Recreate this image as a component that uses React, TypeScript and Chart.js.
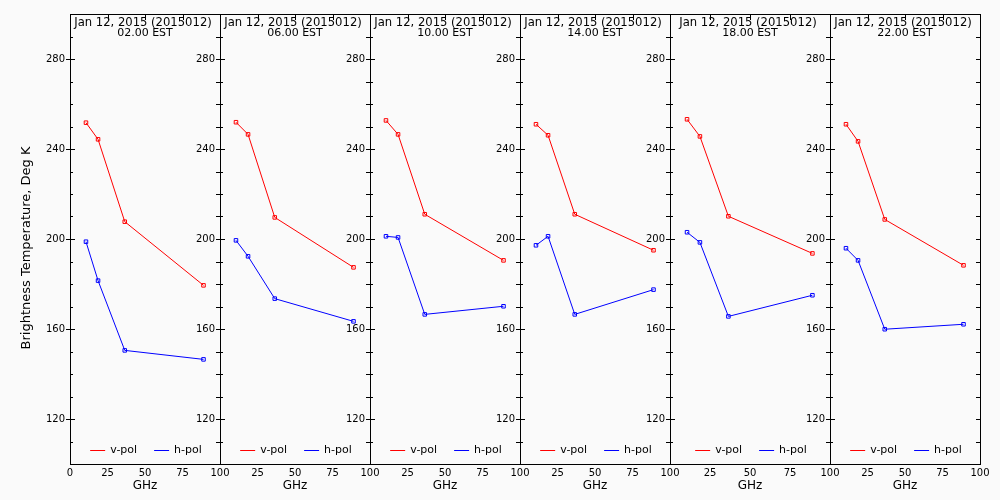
import React, { useEffect, useRef } from 'react';
import { Chart, registerables } from 'chart.js';

Chart.register(...registerables);

// ---- data ----
const frequenciesGHz = [10.65, 18.7, 36.5, 89.0];
const dateLabel = 'Jan 12, 2015 (2015012)';
const panelTimes = ['02.00 EST', '06.00 EST', '10.00 EST', '14.00 EST', '18.00 EST', '22.00 EST'];

const vPol02 = [251.7, 244.3, 207.7, 179.4];
const vPol06 = [251.9, 246.5, 209.6, 187.4];
const vPol10 = [252.7, 246.5, 211.0, 190.5];
const vPol14 = [251.0, 246.1, 211.0, 195.0];
const vPol18 = [253.2, 245.6, 210.1, 193.6];
const vPol22 = [251.0, 243.4, 208.7, 188.3];

const hPol02 = [198.8, 181.5, 150.5, 146.5];
const hPol06 = [199.4, 192.3, 173.5, 163.4];
const hPol10 = [201.2, 200.7, 166.5, 170.1];
const hPol14 = [197.2, 201.2, 166.5, 177.5];
const hPol18 = [203.0, 198.5, 165.6, 175.0];
const hPol22 = [195.9, 190.5, 159.9, 162.1];

const vPolSeries = [vPol02, vPol06, vPol10, vPol14, vPol18, vPol22];
const hPolSeries = [hPol02, hPol06, hPol10, hPol14, hPol18, hPol22];

const seriesLabels = ['v-pol', 'h-pol'];
const xTickValues = [0, 25, 50, 75, 100];
const yLabeledTicks = [120, 160, 200, 240, 280];
const yTitle = 'Brightness Temperature, Deg K';
const xTitle = 'GHz';

// ---- layout ----
const panelEdges = [70, 220, 370, 520, 670, 830, 980];
const PAD_R = 15;
const SANS = '"DejaVu Sans", sans-serif';
const RED = '#ff0000';
const BLUE = '#0000ff';

function Panel({ index }: { index: number }) {
  const ref = useRef<HTMLCanvasElement | null>(null);
  const padL = index === 0 ? panelEdges[0] : 40;
  const panelW = panelEdges[index + 1] - panelEdges[index];
  const width = panelW + padL + PAD_R;
  const height = 500;

  useEffect(() => {
    if (!ref.current) return;
    const toPts = (arr: number[]) => frequenciesGHz.map((x, k) => ({ x, y: arr[k] }));
    const mk = (label: string, arr: number[], color: string) => ({
      label,
      data: toPts(arr),
      borderColor: color,
      backgroundColor: color,
      borderWidth: 1,
      pointStyle: 'rect' as const,
      pointRadius: 2.5,
      pointBorderWidth: 1,
      pointBorderColor: color,
      pointBackgroundColor: 'rgba(0,0,0,0)',
      tension: 0,
      fill: false,
    });

    const decor = {
      id: 'decor' + index,
      afterDraw(chart: any) {
        const ctx = chart.ctx;
        const { left, right, top, bottom } = chart.chartArea;
        const ys = chart.scales.y;
        const xs = chart.scales.x;
        ctx.save();
        ctx.strokeStyle = '#000';
        ctx.lineWidth = 1;
        // frame
        ctx.strokeRect(left + 0.5, top + 0.5, right - left, bottom - top);
        // y ticks
        ctx.beginPath();
        for (let v = 110; v < 300; v += 10) {
          const py = Math.round(ys.getPixelForValue(v)) + 0.5;
          if (yLabeledTicks.includes(v)) {
            ctx.moveTo(left - 4, py);
            ctx.lineTo(left + 5, py);
          } else {
            ctx.moveTo(left, py);
            ctx.lineTo(left + 3, py);
          }
          ctx.moveTo(right - 4, py);
          ctx.lineTo(right, py);
        }
        // top x ticks
        for (const v of xTickValues) {
          if (v === 0 || v === 100) continue;
          const px = Math.round(xs.getPixelForValue(v)) + 0.5;
          ctx.moveTo(px, top);
          ctx.lineTo(px, top + 6);
        }
        ctx.stroke();

        // panel title
        const cx = (left + right) / 2;
        ctx.fillStyle = '#000';
        ctx.textAlign = 'center';
        ctx.textBaseline = 'middle';
        ctx.font = '11.6px ' + SANS;
        ctx.fillText(dateLabel, cx - 2, top + 8.5);
        ctx.font = '11px ' + SANS;
        ctx.fillText(panelTimes[index], cx, top + 19.5);

        // legend
        ctx.font = '11px ' + SANS;
        const ds = chart.data.datasets;
        const lineLen = 15, gapTxt = 5, gapItem = 17;
        const widths = ds.map((d: any) => lineLen + gapTxt + ctx.measureText(d.label).width);
        const total = widths.reduce((a: number, b: number) => a + b, 0) + gapItem * (ds.length - 1);
        let x = cx - total / 2 + 1;
        const ly = 450.5;
        ctx.textAlign = 'left';
        ds.forEach((d: any, k: number) => {
          ctx.strokeStyle = d.borderColor;
          ctx.beginPath();
          ctx.moveTo(x, ly);
          ctx.lineTo(x + lineLen, ly);
          ctx.stroke();
          ctx.fillStyle = '#000';
          ctx.fillText(d.label, x + lineLen + gapTxt, ly);
          x += widths[k] + gapItem;
        });

        // y axis title (first panel only)
        if (index === 0) {
          ctx.save();
          ctx.translate(27, 248);
          ctx.rotate(-Math.PI / 2);
          ctx.textAlign = 'center';
          ctx.textBaseline = 'middle';
          ctx.font = '13px ' + SANS;
          ctx.fillStyle = '#000';
          ctx.fillText(yTitle, 0, 0);
          ctx.restore();
        }
        ctx.restore();
      },
    };

    const chart = new Chart(ref.current, {
      type: 'line',
      data: {
        datasets: [
          mk(seriesLabels[0], vPolSeries[index], RED),
          mk(seriesLabels[1], hPolSeries[index], BLUE),
        ],
      },
      options: {
        animation: false,
        responsive: false,
        maintainAspectRatio: false,
        events: [],
        layout: { padding: { left: 0, right: PAD_R, top: 14, bottom: 0 } },
        plugins: { legend: { display: false }, tooltip: { enabled: false } },
        scales: {
          x: {
            type: 'linear',
            min: 0,
            max: 100,
            afterFit: (s: any) => { s.height = 36; },
            grid: { display: false, drawTicks: false },
            border: { display: false },
            afterBuildTicks: (s: any) => { s.ticks = xTickValues.map((v) => ({ value: v })); },
            ticks: {
              autoSkip: false,
              maxRotation: 0,
              padding: 3,
              color: '#000',
              font: { family: SANS, size: 10 },
              callback: (v: any) => (index > 0 && Number(v) === 0 ? '' : String(v)),
            },
            title: {
              display: true,
              text: xTitle,
              color: '#000',
              font: { family: SANS, size: 12 },
              padding: { top: 0, bottom: 7 },
            },
          },
          y: {
            type: 'linear',
            min: 100,
            max: 300,
            afterFit: (s: any) => { s.width = padL; },
            grid: { display: false, drawTicks: false },
            border: { display: false },
            ticks: {
              stepSize: 10,
              autoSkip: false,
              padding: 5,
              color: '#000',
              font: { family: SANS, size: 10 },
              callback: (v: any) => (yLabeledTicks.includes(Number(v)) ? String(v) : ''),
            },
          },
        },
      } as any,
      plugins: [decor],
    });
    return () => chart.destroy();
  }, [index]);

  return (
    <canvas
      ref={ref}
      width={width}
      height={height}
      style={{ position: 'absolute', left: panelEdges[index] - padL, top: 0, width, height }}
    />
  );
}

export default function App() {
  return (
    <div
      style={{
        position: 'fixed',
        left: 0,
        top: 0,
        width: 1000,
        height: 500,
        background: '#fafafa',
        overflow: 'hidden',
      }}
    >
      {panelTimes.map((_, i) => (
        <Panel key={i} index={i} />
      ))}
    </div>
  );
}
